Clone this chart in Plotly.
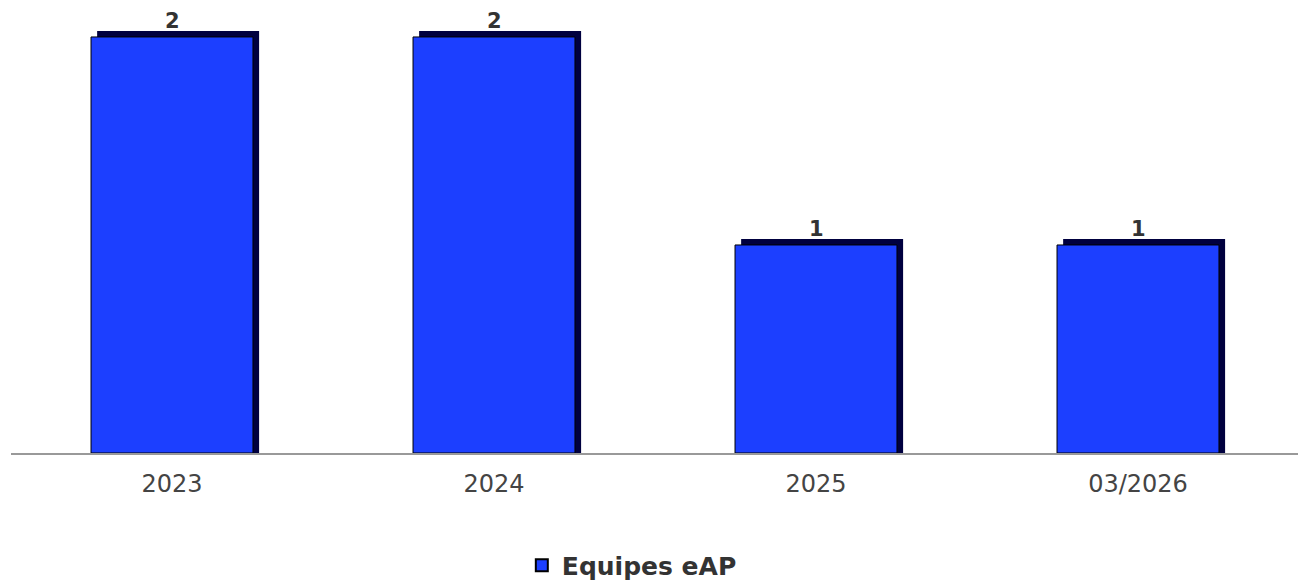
import plotly.graph_objects as go

categories = ["2023", "2024", "2025", "03/2026"]
values = [2, 2, 1, 1]
series_name = "Equipes eAP"

FRONT = "#1c3fff"
SHADOW = "#00003f"
BAR_W = 0.503
DX = 0.019   # shadow horizontal shift (category units)
DY = 0.029   # shadow vertical shift (value units)

fig = go.Figure()

# 3D-like shadow behind each bar
fig.add_trace(go.Bar(
    x=categories, y=[v + DY for v in values], base=0,
    width=BAR_W, offset=-BAR_W / 2 + DX,
    marker=dict(color=SHADOW, line=dict(width=0)),
    showlegend=False, hoverinfo="skip",
))
# front face
fig.add_trace(go.Bar(
    x=categories, y=values, name=f"<b>{series_name}</b>",
    width=BAR_W, offset=-BAR_W / 2,
    marker=dict(color=FRONT, line=dict(color="#000000", width=1)),
))

for i, v in enumerate(values):
    fig.add_annotation(x=i, y=v + DY, text=f"<b>{v}</b>", showarrow=False,
                       yanchor="bottom", yshift=-4,
                       font=dict(family="DejaVu Sans", size=21, color="#333333"))

fig.update_layout(
    width=1298, height=579,
    margin=dict(l=3, r=7, t=4, b=134, autoexpand=False),
    barmode="overlay",
    plot_bgcolor="white", paper_bgcolor="white",
    font=dict(family="DejaVu Sans", color="#444444"),
    showlegend=True,
    legend=dict(orientation="h", x=0.482, xanchor="center", y=-0.255, yanchor="middle",
                font=dict(family="DejaVu Sans", size=25, color="#333333"),
                itemsizing="constant"),
    xaxis=dict(type="category", range=[-0.5, len(categories) - 0.5],
               showline=True, linecolor="#999999", linewidth=2, ticks="",
               tickfont=dict(size=24, color="#444444"), showgrid=False,
               ticklabelstandoff=8),
    yaxis=dict(range=[0, 2.12], visible=False, showgrid=False, zeroline=False),
)

fig.write_html("out.html")
